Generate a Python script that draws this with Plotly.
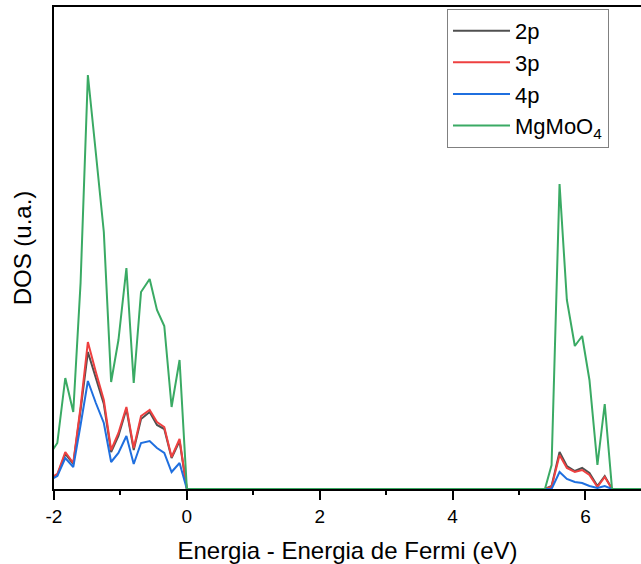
import plotly.graph_objects as go

# Energy grid (eV, relative to Fermi level)
energy = [-2.06, -1.95, -1.83, -1.71, -1.60, -1.49, -1.37, -1.25, -1.14, -1.03,
          -0.91, -0.80, -0.69, -0.56, -0.45, -0.34, -0.23, -0.11, 0.0,
          5.39, 5.49, 5.61, 5.72, 5.84, 5.95, 6.06, 6.18, 6.29, 6.40, 7.0]

# DOS values (arbitrary units)
dos_2p = [11, 14, 35, 25, 79, 137, 111, 85, 37, 53, 80, 39, 70, 77, 64, 60, 31, 48, 0,
          0, 3, 37, 23, 18, 21, 16, 3, 13, 0, 0]
dos_3p = [11, 15, 37, 26, 82, 147, 117, 89, 39, 56, 82, 41, 73, 79, 67, 62, 32, 50, 0,
          0, 2, 34, 21, 17, 19, 14, 2, 12, 0, 0]
dos_4p = [9, 13, 31, 22, 64, 108, 86, 66, 27, 36, 53, 25, 46, 48, 41, 36, 17, 26, 0,
          0, 0, 17, 10, 7, 6, 3, 1, 3, 0, 0]
dos_total = [35, 46, 111, 77, 206, 414, 336, 257, 107, 149, 221, 106, 197, 210, 179, 163, 82, 129, 0,
             0, 24, 305, 189, 143, 153, 109, 24, 85, 0, 0]

# x tick labels
tick_vals = [-2, 0, 2, 4, 6]
tick_text = ["-2", "0", "2", "4", "6"]

series_names = ["2p", "3p", "4p", "MgMoO<sub>4</sub>"]
series_values = [dos_2p, dos_3p, dos_4p, dos_total]
colors = ["#505050", "#EE4040", "#1F6FDF", "#3AAA64"]

fig = go.Figure()
for name, vals, col in zip(series_names, series_values, colors):
    fig.add_trace(go.Scatter(x=energy, y=vals, mode="lines", name=name,
                             line=dict(color=col, width=2)))

fig.update_layout(
    width=641, height=564,
    margin=dict(l=54, r=0, t=7, b=75),
    plot_bgcolor="white", paper_bgcolor="white",
    font=dict(family="Liberation Sans, Arial, sans-serif", color="black"),
    showlegend=True,
    legend=dict(x=0.6695, y=0.996, xanchor="left", yanchor="top",
                bgcolor="white", bordercolor="#808080", borderwidth=1,
                font=dict(size=22), itemwidth=57, tracegroupgap=0),
)
fig.update_xaxes(
    range=[-2, 6.836], showgrid=False, zeroline=False,
    showline=True, linecolor="black", linewidth=2, mirror=True,
    ticks="outside", ticklen=9, tickwidth=2, tickcolor="black",
    tickmode="array", tickvals=tick_vals, ticktext=tick_text,
    tickfont=dict(size=19),
    minor=dict(tickmode="linear", tick0=0, dtick=1, ticks="outside",
               ticklen=4, tickwidth=2, tickcolor="black"),
    title=dict(text="Energia - Energia de Fermi (eV)", font=dict(size=24), standoff=16),
)
fig.update_yaxes(
    range=[0, 482], showgrid=False, zeroline=False,
    showline=True, linecolor="black", linewidth=2, mirror=False,
    ticks="", showticklabels=False,
    title=dict(text="DOS (u.a.)", font=dict(size=24), standoff=14),
)

fig.write_html(
    "out.html",
    config={"displayModeBar": False},
    post_script="document.body.style.margin='0';document.body.style.overflow='hidden';",
)
